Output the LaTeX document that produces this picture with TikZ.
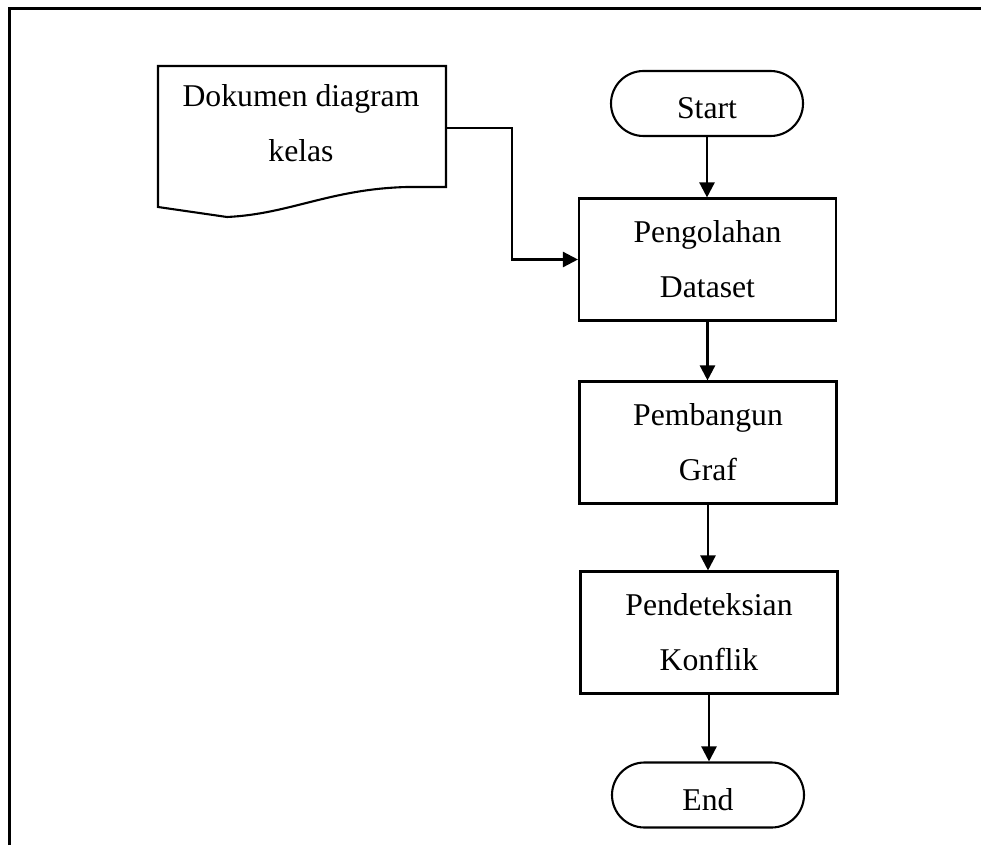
\documentclass[tikz,border=0pt]{standalone}
\usepackage{fontspec}
\setmainfont{Liberation Serif}
\usetikzlibrary{arrows.meta,shapes.misc}
\begin{document}
\begin{tikzpicture}[x=1pt,y=-1pt,
  every node/.style={font=\fontsize{31.7}{55}\selectfont, align=center, inner sep=0pt},
  procbox/.style={draw, line width=2.1pt, rectangle, minimum width=257pt, minimum height=122pt},
  term/.style={draw, line width=2.1pt, rounded rectangle, minimum width=192pt, minimum height=65pt,
    text height=30pt, text depth=0pt},
  flow/.style={line width=2.4pt, -{Triangle[length=15pt,width=15pt]}}
]
\useasboundingbox (0,0) rectangle (981,845);
% outer frame (top and left rules)
\draw[line width=3pt] (9,845) -- (9,9) -- (981,9);

% document symbol
\draw[line width=2.1pt] (158,66) -- (446,66) -- (446,187) -- (407,187)
  .. controls (330,189) and (290,214) .. (227,217) -- (158,207) -- cycle;
\node (doc) at (301,123.5) {Dokumen diagram\\kelas};
\coordinate (docout) at (446,128);
\coordinate (bend) at (512,128);

% process chain
\node[term] (start) at (707,103.5) {Start};
\node[procbox] (pre) at (707.5,259.5) {Pengolahan\\Dataset};
\node[procbox] (graph) at (708,442.5) {Pembangun\\Graf};
\node[procbox] (detect) at (709,632.5) {Pendeteksian\\Konflik};
\node[term] (stop) at (708,795) {End};

% connectors
\draw[flow] (docout) -- (bend) |- (pre.west);
\draw[flow] (start.south) -- (start.south |- pre.north);
\draw[flow] (pre.south) -- (pre.south |- graph.north);
\draw[flow] (graph.south) -- (graph.south |- detect.north);
\draw[flow] (detect.south) -- (detect.south |- stop.north);
\end{tikzpicture}
\end{document}
